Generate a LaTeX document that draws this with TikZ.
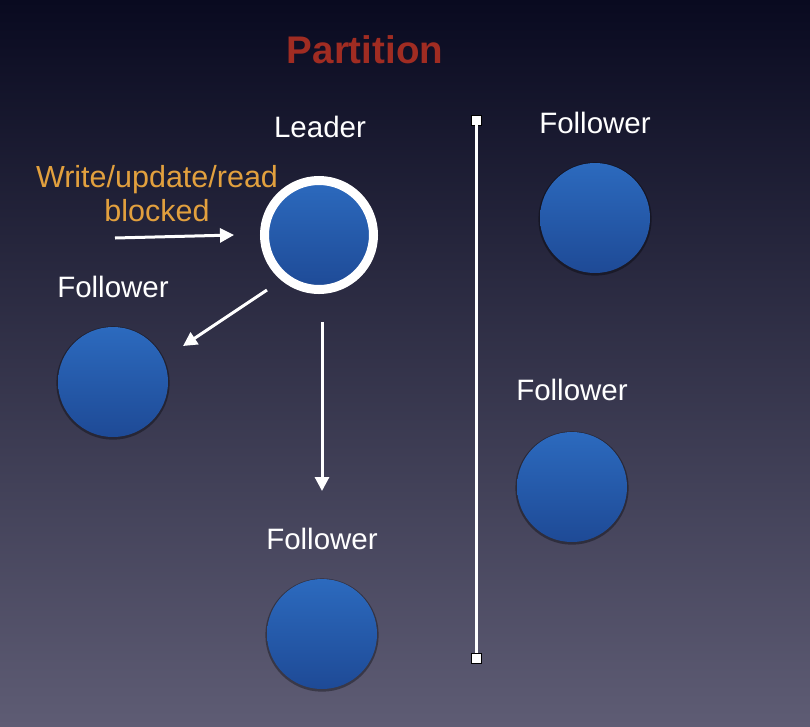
\documentclass[tikz,border=0pt]{standalone}
\usepackage{fontspec}
\setmainfont{Liberation Sans}
\usetikzlibrary{arrows.meta,shadows}
\definecolor{bgtop}{RGB}{9,10,32}
\definecolor{bgmid}{RGB}{38,38,70}
\definecolor{bgbot}{RGB}{94,92,116}
\definecolor{ballTop}{RGB}{44,106,190}
\definecolor{ballBot}{RGB}{30,74,150}
\definecolor{titlered}{RGB}{160,44,34}
\definecolor{labelorange}{RGB}{226,160,62}
\tikzset{
  ball/.style={circle, inner sep=0pt, minimum size=110pt, top color=ballTop, bottom color=ballBot, draw=none,
    drop shadow={shadow xshift=0pt, shadow yshift=-1pt, opacity=.35, shadow scale=1.03, fill=black}},
  lbl/.style={text=white, font=\fontsize{29.5}{34}\selectfont, inner sep=0pt},
  arr/.style={draw=white, line width=3pt, -{Triangle[length=14pt,width=14pt]}},
  endsq/.style={rectangle, draw=black, line width=0.8pt, fill=white, minimum size=10pt, inner sep=0pt}
}
\begin{document}
\begin{tikzpicture}[x=1pt,y=1pt]
\shade[top color=bgtop, middle color=bgmid, bottom color=bgbot] (0,0) rectangle (810,-726);
\useasboundingbox (0,0) rectangle (810,-726);

\node[font=\bfseries\fontsize{38.5}{44}\selectfont, text=titlered, inner sep=0pt] (title) at (365,-50) {Partition};

% balls
\node[ball, draw=white, line width=9pt, minimum size=109pt] (leader) at (319,-235) {};
\node[ball] (fr1) at (595,-218) {};
\node[ball] (fl) at (113,-382) {};
\node[ball] (fr2) at (572,-487) {};
\node[ball] (fb) at (322,-634) {};

% labels
\node[lbl] (tleader) at (320,-127) {Leader};
\node[lbl] (tfr1) at (595,-123) {Follower};
\node[lbl] (tfl) at (113,-287) {Follower};
\node[lbl] (tfr2) at (572,-390) {Follower};
\node[lbl] (tfb) at (322,-539) {Follower};
\node[lbl, text=labelorange, align=center, font=\fontsize{30.5}{34}\selectfont] (blocked) at (157,-194) {Write/update/read\\blocked};

% arrows
\coordinate (inS) at (115,-238);
\coordinate (inE) at (234,-235);
\coordinate (l1S) at (267,-290);
\coordinate (l1E) at (183,-346);
\coordinate (l2S) at (322,-322);
\coordinate (l2E) at (322,-491);
\draw[arr] (inS) -- (inE);
\draw[arr] (l1S) -- (l1E);
\draw[arr] (l2S) -- (l2E);

% partition line
\node[endsq] (ptop) at (476,-120) {};
\node[endsq] (pbot) at (476,-658) {};
\draw[white, line width=3pt] (ptop.south) -- (pbot.north);
\end{tikzpicture}
\end{document}
